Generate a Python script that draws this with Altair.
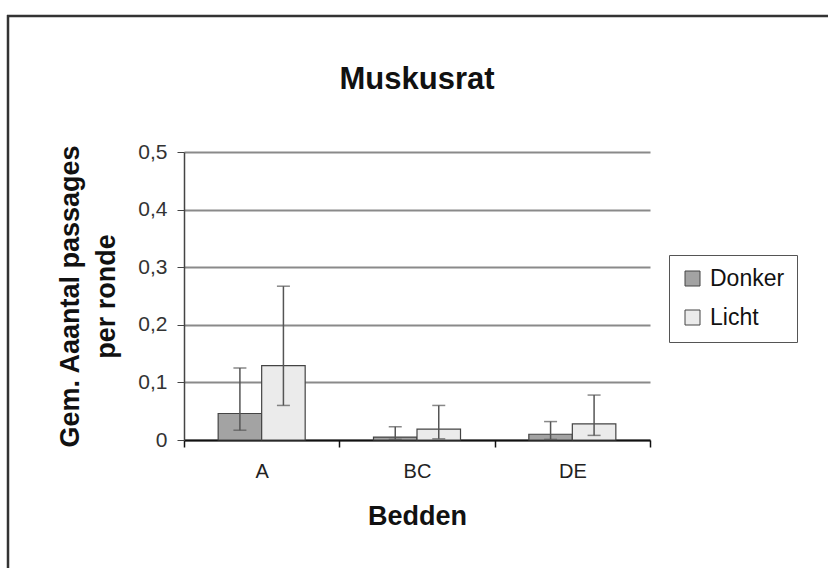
import altair as alt
import pandas as pd

beds = ["A", "A", "BC", "BC", "DE", "DE"]
series = ["Donker", "Licht", "Donker", "Licht", "Donker", "Licht"]
means = [0.046, 0.129, 0.005, 0.019, 0.010, 0.028]
err_lo = [0.017, 0.060, 0.001, 0.002, 0.001, 0.008]
err_hi = [0.125, 0.267, 0.023, 0.060, 0.032, 0.078]

df = pd.DataFrame({"bed": beds, "serie": series, "mean": means, "lo": err_lo, "hi": err_hi})

FONT = "Liberation Sans"
W, H = 466, 288

x_enc = alt.X("bed:N", sort=["A", "BC", "DE"],
              scale=alt.Scale(paddingInner=0, paddingOuter=0),
              axis=alt.Axis(title="Bedden", labelAngle=0, tickBand="extent",
                            domainColor="#111", domainWidth=2, tickColor="#111",
                            tickSize=7, tickWidth=1.5, labelFontSize=20, labelFont=FONT,
                            labelColor="#222", labelPadding=14, labelBaseline="top",
                            titleFont=FONT, titleFontSize=27, titleFontWeight="bold",
                            titleColor="#111", titleX=W / 2, titleY=63, titleBaseline="top",
                            titleAlign="center", grid=False))
xoff = alt.XOffset("serie:N", sort=["Donker", "Licht"],
                   scale=alt.Scale(paddingInner=0, paddingOuter=0.785))

bars = alt.Chart(df).mark_bar(stroke="#444", strokeWidth=1.2).encode(
    x=x_enc,
    xOffset=xoff,
    y=alt.Y("mean:Q", scale=alt.Scale(domain=[0, 0.5]),
            axis=alt.Axis(title=["Gem. Aaantal passages", "per ronde"], values=[0, 0.1, 0.2, 0.3, 0.4, 0.5],
                          labelExpr="datum.value == 0 ? '0' : replace(format(datum.value, '.1f'), '.', ',')",
                          grid=True, gridColor="#8a8a8a", gridWidth=2,
                          domainColor="#444", domainWidth=1.5, tickColor="#444", tickSize=7,
                          labelFontSize=21, labelFont=FONT, labelColor="#333", labelPadding=10,
                          titleFont=FONT, titleFontSize=27, titleFontWeight="bold", titleColor="#111",
                          titleX=-127, titleY=H / 2, titleBaseline="top", titleAlign="center",
                          titleLineHeight=36)),
    fill=alt.Fill("serie:N", scale=alt.Scale(domain=["Donker", "Licht"], range=["#a3a3a3", "#ebebeb"]),
                  legend=alt.Legend(title=None, orient="none", legendX=485, legendY=103,
                                    strokeColor="#555", fillColor="white", padding=12,
                                    symbolType="square", symbolSize=225, symbolStrokeColor="#444",
                                    symbolStrokeWidth=1, labelFont=FONT, labelFontSize=23,
                                    labelColor="#111", rowPadding=15, labelOffset=6)),
)

rules = alt.Chart(df).mark_rule(color="#555", strokeWidth=1.5).encode(
    x=alt.X("bed:N", sort=["A", "BC", "DE"]), xOffset=xoff,
    y="lo:Q", y2="hi:Q")
cap_hi = alt.Chart(df).mark_tick(color="#555", thickness=1.5, size=13, orient="horizontal").encode(
    x=alt.X("bed:N", sort=["A", "BC", "DE"]), xOffset=xoff, y="hi:Q")
cap_lo = alt.Chart(df).mark_tick(color="#555", thickness=1.5, size=13, orient="horizontal").encode(
    x=alt.X("bed:N", sort=["A", "BC", "DE"]), xOffset=xoff, y="lo:Q")

one = alt.Data(values=[{"t": "Muskusrat"}])
title = alt.Chart(one).mark_text(font=FONT, fontSize=31, fontWeight="bold", color="#111",
                                 align="center", baseline="alphabetic").encode(
    text="t:N", x=alt.value(W / 2), y=alt.value(-63))

frame_top = alt.Chart(one).mark_rule(color="#333", strokeWidth=2.5).encode(
    x=alt.value(-177), x2=alt.value(700), y=alt.value(-136))
frame_left = alt.Chart(one).mark_rule(color="#333", strokeWidth=2.5).encode(
    x=alt.value(-176), y=alt.value(-137), y2=alt.value(500))

chart = alt.layer(bars, rules, cap_hi, cap_lo, title, frame_top, frame_left).properties(
    width=W, height=H,
    autosize=alt.AutoSizeParams(type="none"),
    padding={"left": 184, "top": 152, "right": 178, "bottom": 128},
    background="white",
).configure_view(stroke=None)

chart.save("out.html", embed_options={"renderer": "svg", "actions": False})
